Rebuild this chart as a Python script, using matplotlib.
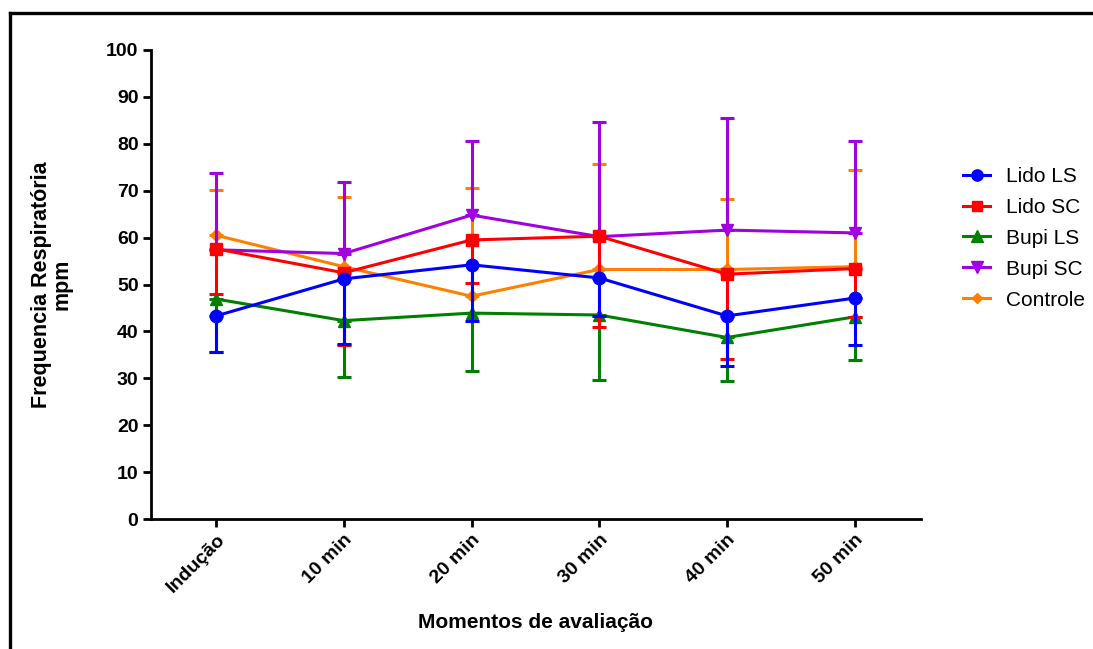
import matplotlib
matplotlib.use("Agg")
import matplotlib.pyplot as plt
from matplotlib.lines import Line2D

plt.rcParams["font.family"] = ["Liberation Sans", "DejaVu Sans"]

moments = ["Indução", "10 min", "20 min", "30 min", "40 min", "50 min"]

lido_ls = [43.3, 51.2, 54.2, 51.4, 43.3, 47.1]
lido_ls_sd = [7.7, 13.8, 11.9, 8.1, 10.7, 9.9]

lido_sc = [57.6, 52.5, 59.5, 60.3, 52.2, 53.4]
lido_sc_sd = [9.7, 15.4, 9.2, 19.3, 18.0, 10.4]

bupi_ls = [46.9, 42.3, 43.9, 43.5, 38.7, 43.1]
bupi_ls_sd = [11.2, 12.0, 12.3, 13.9, 9.2, 9.2]

bupi_sc = [57.4, 56.6, 64.8, 60.2, 61.6, 61.0]
bupi_sc_sd = [16.4, 15.2, 15.8, 24.4, 24.0, 19.5]

controle = [60.5, 53.8, 47.5, 53.2, 53.2, 53.8]
controle_sd = [9.6, 14.8, 23.0, 22.4, 15.0, 20.6]

series = [
    # label, means, sd, colour, marker, size, bar direction
    ("Lido LS", lido_ls, lido_ls_sd, "#0000FF", "o", 9.0, "down"),
    ("Lido SC", lido_sc, lido_sc_sd, "#FF0000", "s", 8.5, "down"),
    ("Bupi LS", bupi_ls, bupi_ls_sd, "#008000", "^", 9.0, "down"),
    ("Bupi SC", bupi_sc, bupi_sc_sd, "#A100E0", "v", 9.0, "up"),
    ("Controle", controle, controle_sd, "#FF8000", "D", 6.0, "up"),
]

fig = plt.figure(figsize=(10.93, 6.49), dpi=100)
ax = fig.add_axes([151 / 1093, 1 - 519 / 649, (921 - 151) / 1093, (519 - 50) / 649])

x = list(range(len(moments)))
handles = []
n = len(series)
for i, (label, m, sd, col, mk, ms, direction) in enumerate(series):
    z = 10 + (n - i)
    if direction == "down":
        yerr = [sd, [0] * len(sd)]
    else:
        yerr = [[0] * len(sd), sd]
    ax.errorbar(x, m, yerr=yerr, color=col, lw=2.2, marker=mk, ms=ms,
                mec=col, mfc=col, capsize=5, capthick=2.2, elinewidth=2.2,
                zorder=z, clip_on=False)
    handles.append(Line2D([0], [0], color=col, lw=2.2, marker=mk, ms=ms * 0.9,
                          mec=col, mfc=col, label=label))

ax.set_xlim(-0.51, 5.52)
ax.set_ylim(0, 100)
ax.set_yticks(range(0, 101, 10))
ax.set_xticks(x)
ax.set_xticklabels(moments, rotation=45, ha="right", rotation_mode="anchor",
                   fontsize=14, fontweight="bold")
for lab in ax.get_yticklabels():
    lab.set_fontsize(14)
    lab.set_fontweight("bold")

for side in ("top", "right"):
    ax.spines[side].set_visible(False)
for side in ("left", "bottom"):
    ax.spines[side].set_linewidth(2.0)
ax.tick_params(axis="both", direction="out", length=6, width=2.0, pad=3)

ax.set_ylabel("Frequencia Respiratória\nmpm", fontsize=15.5, fontweight="bold",
              labelpad=24, linespacing=1.0)
ax.set_xlabel("Momentos de avaliação", fontsize=15, fontweight="bold", labelpad=12)

fig.legend(handles=handles, loc="upper left", bbox_to_anchor=(963 / 1093, 1 - 167 / 649),
           frameon=False, fontsize=15, handlelength=1.3, handletextpad=0.75,
           labelspacing=0.57, borderpad=0, borderaxespad=0)

# outer frame (left and top edges)
fig.add_artist(Line2D([10 / 1093, 10 / 1093], [0, 1 - 13 / 649],
                      transform=fig.transFigure, color="black", lw=2.4))
fig.add_artist(Line2D([10 / 1093, 1], [1 - 13 / 649, 1 - 13 / 649],
                      transform=fig.transFigure, color="black", lw=2.4))

fig.savefig("out.png", dpi=100, facecolor="white")
